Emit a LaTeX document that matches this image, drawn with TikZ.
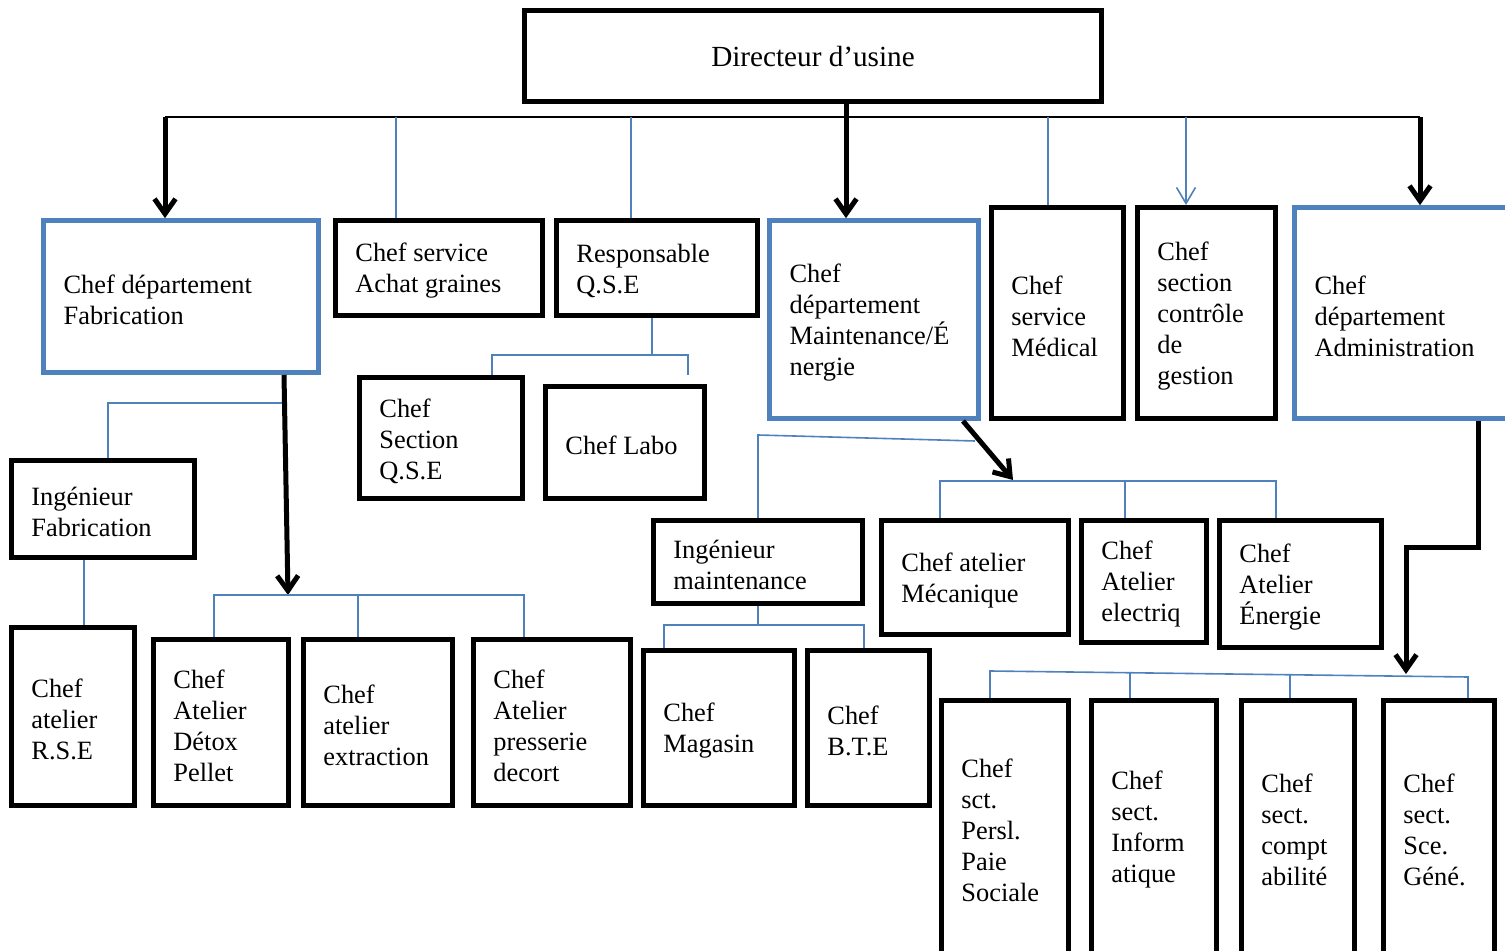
\documentclass[tikz,border=0pt]{standalone}
\usepackage{fontspec}
\setmainfont{Liberation Serif}
\usetikzlibrary{arrows.meta,fit}
\definecolor{bl}{RGB}{79,129,189}
\newcommand\orgbox[7]{%
  \node[#6, fit={(#2+2.5,#3+2.5) (#4-2.5,#5-2.5)}, inner sep=0pt] (#1) {};
  \node[txt] (#1t) at ([xshift=11pt,yshift=-1.5pt]#1.west) {#7};}
\begin{document}
\begin{tikzpicture}[x=0.5pt,y=-0.5pt,
  bbox/.style={draw=black, line width=2.5pt},
  bluebox/.style={draw=bl, line width=2.3pt},
  txt/.style={anchor=west, align=left, inner sep=0pt, font=\fontsize{13.2pt}{15.5pt}\selectfont},
  conn/.style={draw=bl, line width=0.8pt},
  bigarrow/.style={draw=black, line width=2.5pt, -{Straight Barb[length=7.5pt,width=10.5pt]}},
]
\useasboundingbox (0,0) rectangle (1505,951);
\clip (0,0) rectangle (1505,951);

% top
\node[bbox, fit={(524.5,10.5) (1101.5,101.5)}, inner sep=0pt] (dir) {};
\node[txt, anchor=center, font=\fontsize{14.6pt}{17pt}\selectfont] (dirt) at ([yshift=-0.5pt]dir.center) {Directeur d’usine};

% level 1
\orgbox{fab}{41}{218}{321}{375}{bluebox}{Chef département\\Fabrication}
\orgbox{achat}{333}{218}{545}{318}{bbox}{Chef service\\Achat graines}
\orgbox{qse}{554}{218}{760}{318}{bbox}{Responsable\\Q.S.E}
\orgbox{maint}{767}{218}{981}{421}{bluebox}{Chef\\département\\Maintenance/É\\nergie}
\orgbox{med}{989}{205}{1126}{421}{bbox}{Chef\\service\\Médical}
\orgbox{ctrl}{1135}{205}{1278}{421}{bbox}{Chef\\section\\contrôle\\de\\gestion}
\orgbox{admin}{1292}{205}{1520}{421}{bluebox}{Chef\\département\\Administration}

% QSE children
\orgbox{secqse}{357}{375}{525}{501}{bbox}{Chef\\Section\\Q.S.E}
\orgbox{labo}{543}{384}{707}{501}{bbox}{Chef Labo}

% Fabrication children
\orgbox{ingfab}{9}{458}{197}{560}{bbox}{Ingénieur\\Fabrication}
\orgbox{rse}{9}{625}{137}{808}{bbox}{Chef\\atelier\\R.S.E}
\orgbox{detox}{151}{637}{291}{808}{bbox}{Chef\\Atelier\\Détox\\Pellet}
\orgbox{extr}{301}{637}{455}{808}{bbox}{Chef\\atelier\\extraction}
\orgbox{press}{471}{637}{633}{808}{bbox}{Chef\\Atelier\\presserie\\decort}

% Maintenance children
\orgbox{ingm}{651}{518}{865}{606}{bbox}{Ingénieur\\maintenance}
\orgbox{meca}{879}{518}{1071}{637}{bbox}{Chef atelier\\Mécanique}
\orgbox{elec}{1079}{518}{1209}{645}{bbox}{Chef\\Atelier\\electriq}
\orgbox{ener}{1217}{518}{1384}{650}{bbox}{Chef\\Atelier\\Énergie}
\orgbox{mag}{641}{648}{797}{808}{bbox}{Chef\\Magasin}
\orgbox{bte}{805}{648}{932}{808}{bbox}{Chef\\B.T.E}

% Administration children
\orgbox{persl}{939}{698}{1071}{956}{bbox}{Chef\\sct.\\Persl.\\Paie\\Sociale}
\orgbox{info}{1089}{698}{1219}{956}{bbox}{Chef\\sect.\\Inform\\atique}
\orgbox{compt}{1239}{698}{1357}{956}{bbox}{Chef\\sect.\\compt\\abilité}
\orgbox{gene}{1381}{698}{1497}{956}{bbox}{Chef\\sect.\\Sce.\\Géné.}

% coordinates
\coordinate (busL) at (165,117);
\coordinate (busR) at (1420,117);
\coordinate (trunk) at (846,117);
\coordinate (b1) at (396,117);
\coordinate (b2) at (631,117);
\coordinate (b3) at (1048,117);
\coordinate (b4) at (1186,117);
\coordinate (q0) at (652,355);
\coordinate (qL) at (492,355);
\coordinate (qR) at (688,355);
\coordinate (f0) at (284,403);
\coordinate (fL) at (108,403);
\coordinate (fA) at (284,375);
\coordinate (fB) at (288,595);
\coordinate (fh1) at (214,595);
\coordinate (fh2) at (358,595);
\coordinate (fh3) at (524,595);
\coordinate (i1) at (84,560);
\coordinate (mA) at (963,421);
\coordinate (mB) at (1013,480);
\coordinate (mL) at (758,435);
\coordinate (mR) at (975,441);
\coordinate (mh1) at (940,481);
\coordinate (mh2) at (1125,481);
\coordinate (mh3) at (1276,481);
\coordinate (g0) at (758,625);
\coordinate (gL) at (664,625);
\coordinate (gR) at (864,625);
\coordinate (aA) at (1478,421);
\coordinate (aB) at (1478,548);
\coordinate (aC) at (1406,548);
\coordinate (aD) at (1406,674);
\coordinate (ah1) at (990,671);
\coordinate (ah2) at (1130,673);
\coordinate (ah3) at (1290,675);
\coordinate (ah4) at (1468,677);

% top connectors
\draw[line width=1.1pt] (busL) -- (busR);
\draw[bigarrow] (busL) -- (busL |- fab.north);
\draw[bigarrow] (trunk |- dir.south) -- (trunk |- maint.north);
\draw[bigarrow] (busR) -- (busR |- admin.north);
\draw[conn] (b1) -- (b1 |- achat.north);
\draw[conn] (b2) -- (b2 |- qse.north);
\draw[conn] (b3) -- (b3 |- med.north);
\draw[conn, -{Straight Barb[length=8pt,width=9.5pt]}] (b4) -- (b4 |- ctrl.north);

% QSE
\draw[conn] (q0 |- qse.south) -- (q0);
\draw[conn] (qL |- secqse.north) -- (qL) -- (qR) -- (qR |- secqse.north);

% Fabrication
\draw[conn] (fL |- ingfab.north) -- (fL) -- (f0);
\draw[bigarrow] (fA) -- (fB);
\draw[conn] (i1) -- (i1 |- rse.north);
\draw[conn] (fh1 |- detox.north) -- (fh1) -- (fh3) -- (fh3 |- press.north);
\draw[conn] (fh2) -- (fh2 |- extr.north);

% Maintenance
\draw[bigarrow] (mA) -- (mB);
\draw[conn] (mL |- ingm.north) -- (mL) -- (mR);
\draw[conn] (mh1 |- meca.north) -- (mh1) -- (mh3) -- (mh3 |- ener.north);
\draw[conn] (mh2) -- (mh2 |- elec.north);
\draw[conn] (g0 |- ingm.south) -- (g0);
\draw[conn] (gL |- mag.north) -- (gL) -- (gR) -- (gR |- bte.north);

% Administration
\draw[bigarrow] (aA) -- (aB) -- (aC) -- (aD);
\draw[conn] (ah1 |- persl.north) -- (ah1) -- (ah4) -- (ah4 |- gene.north);
\draw[conn] (ah2) -- (ah2 |- info.north);
\draw[conn] (ah3) -- (ah3 |- compt.north);
\end{tikzpicture}
\end{document}
